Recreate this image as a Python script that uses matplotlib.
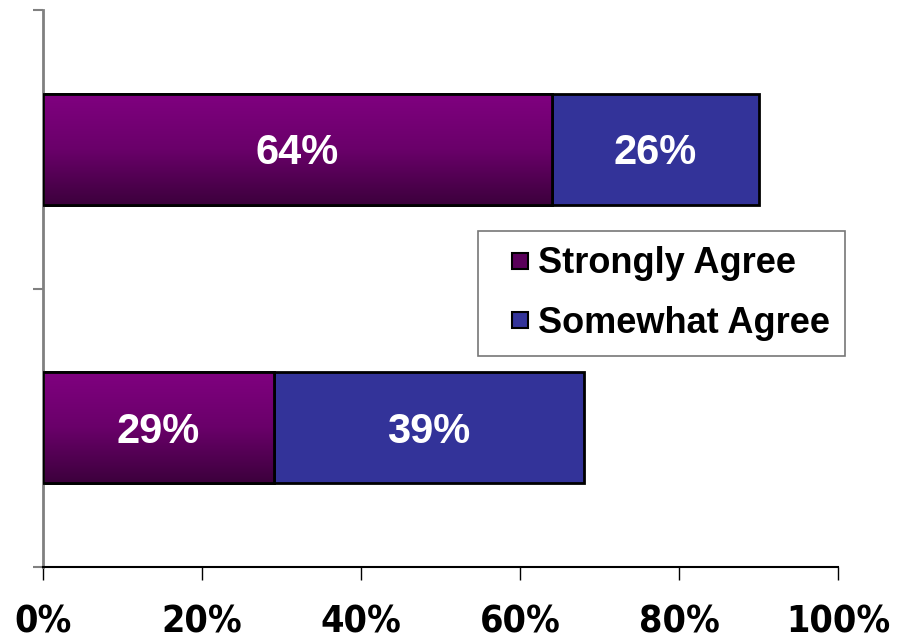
import numpy as np
import matplotlib.pyplot as plt
from matplotlib.colors import LinearSegmentedColormap
from matplotlib.lines import Line2D
from matplotlib import font_manager

# data (bottom row first)
rows = ["Row 2", "Row 1"]
strongly = [29, 64]
somewhat = [39, 26]
series_names = ["Strongly Agree", "Somewhat Agree"]
xticks = [0, 20, 40, 60, 80, 100]

purple = "#800080"
blue = "#333399"
grad = LinearSegmentedColormap.from_list("pg", ["#3c003c", "#6a006a", "#800080"])

plt.rcParams['font.family'] = ['Liberation Sans', 'DejaVu Sans']

# look for a narrow bold face for the tick labels (Arial Narrow look)
narrow_prop = None
for f in font_manager.fontManager.ttflist:
    nm = f.name.lower()
    st = str(f.stretch).lower()
    wt = f.weight if isinstance(f.weight, int) else (700 if "bold" in str(f.weight).lower() else 400)
    if ("narrow" in nm or "condensed" in nm or "condensed" in st or "narrow" in st) and wt >= 600 \
            and "oblique" not in f.style and "italic" not in f.style:
        narrow_prop = font_manager.FontProperties(fname=f.fname, size=27)
        break
if narrow_prop is None:
    narrow_prop = font_manager.FontProperties(family="Liberation Sans", weight="bold", size=26)

fig = plt.figure(figsize=(9.05, 6.41), dpi=100)
ax = fig.add_axes([0.0475, 0.1154, 0.8785, 0.869])

ypos = np.arange(len(rows)) + 0.5
h = 0.4

bars1 = ax.barh(ypos, strongly, height=h, color=purple, edgecolor="black", linewidth=2, zorder=2)
bars2 = ax.barh(ypos, somewhat, left=strongly, height=h, color=blue, edgecolor="black", linewidth=2, zorder=2)

# vertical gradient on the purple bars
g = np.linspace(0, 1, 256).reshape(-1, 1)
for b in bars1:
    x0, y0 = b.get_x(), b.get_y()
    im = ax.imshow(g, cmap=grad, aspect="auto", origin="lower",
                   extent=[x0, x0 + b.get_width(), y0, y0 + b.get_height()], zorder=2.5)
    im.set_clip_path(b)
    ax.add_patch(plt.Rectangle((x0, y0), b.get_width(), b.get_height(),
                               fill=False, edgecolor="black", linewidth=2, zorder=3))

for i in range(len(rows)):
    yt = ypos[i] - 0.015
    ax.text(strongly[i] / 2, yt, f"{strongly[i]}%", color="white", fontsize=30,
            fontweight="bold", ha="center", va="center", zorder=4)
    ax.text(strongly[i] + somewhat[i] / 2, yt, f"{somewhat[i]}%", color="white",
            fontsize=30, fontweight="bold", ha="center", va="center", zorder=4)

ax.set_xlim(0, 100)
ax.set_ylim(0, len(rows))
ax.set_xticks(xticks)
ax.set_xticklabels([f"{v}%" for v in xticks], fontproperties=narrow_prop)
ax.set_yticks(np.arange(len(rows) + 1))
ax.set_yticklabels([])
ax.tick_params(axis="x", length=9, width=1, pad=18, colors="black")
ax.tick_params(axis="y", length=7.5, width=1.5, color="#808080")

for s in ["top", "right"]:
    ax.spines[s].set_visible(False)
ax.spines["left"].set_color("#808080")
ax.spines["left"].set_linewidth(2)
ax.spines["bottom"].set_color("black")
ax.spines["bottom"].set_linewidth(1.5)

handles = [Line2D([], [], linestyle="none", marker="s", markersize=11.5, markerfacecolor="#5a005a",
                  markeredgecolor="black", markeredgewidth=1.5),
           Line2D([], [], linestyle="none", marker="s", markersize=11.5, markerfacecolor=blue,
                  markeredgecolor="black", markeredgewidth=1.5)]
leg = ax.legend(handles, series_names, loc="upper left", bbox_to_anchor=(0.547, 0.603),
                prop={"size": 26, "weight": "bold"}, frameon=True, fancybox=False,
                handlelength=1.5, handletextpad=-0.25,
                borderpad=0.42, labelspacing=0.68, borderaxespad=0)
leg.get_frame().set_edgecolor("#555555")
leg.get_frame().set_linewidth(1.2)

plt.savefig("out.png", dpi=100)
